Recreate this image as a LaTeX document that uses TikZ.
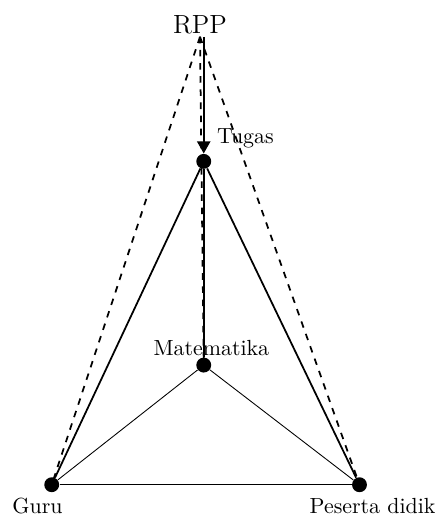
\documentclass[tikz,border=0pt]{standalone}
\usetikzlibrary{arrows.meta}

\begin{document}
\begin{tikzpicture}[
    dot/.style={circle, fill, inner sep=0pt, minimum size=6.8pt},
    side/.style={thick},
    spoke/.style={thin},
    plan/.style={thick, dashed},
    flow/.style={-{Triangle[width=6pt,length=5.5pt]}, thick}
]
\useasboundingbox (-0.83,-0.55) rectangle (6.18,7.78);
\node[dot, label={[label distance=-1pt, xshift=-6.5pt]below:Guru}] (guru) at (0,0) {};
\node[dot, label={[label distance=-1pt, xshift=6pt]below:Peserta didik}] (siswa) at (4.94,0) {};
\node[dot, label={above right:Tugas}] (tugas) at (2.44,5.19) {};
\node[dot, label={[label distance=-3pt, xshift=3.5pt]above:Matematika}] (mat) at (2.44,1.92) {};
\node[anchor=south, inner sep=1pt, font=\large] (rpp) at (2.38,7.19) {RPP};
% segitiga
\draw[side] (tugas) -- (guru);
\draw[side] (tugas) -- (siswa);
\draw[side] (tugas) -- (mat);
\draw[spoke] (mat) -- (guru);
\draw[spoke] (mat) -- (siswa);
\draw[spoke] (guru) -- (siswa);
% RPP
\draw[plan] (rpp.south) -- (guru.center);
\draw[plan] (rpp.south) -- (siswa.center);
\draw[plan] (rpp.south) -- (mat.center);
\draw[flow] (rpp.south -| tugas) -- (tugas);
\end{tikzpicture}
\end{document}
